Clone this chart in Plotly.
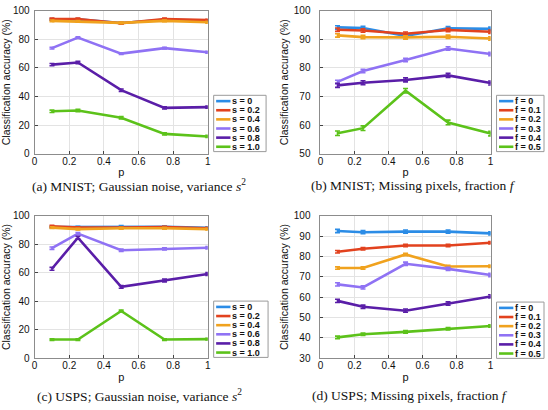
import plotly.graph_objects as go

W, H = 548, 410

# ---------------- data ----------------
p_values = [0.1, 0.25, 0.5, 0.75, 1.0]

s_labels = ["s = 0", "s = 0.2", "s = 0.4", "s = 0.6", "s = 0.8", "s = 1.0"]
f_labels = ["f = 0", "f = 0.1", "f = 0.2", "f = 0.3", "f = 0.4", "f = 0.5"]

# (a) MNIST, Gaussian noise
mnist_gauss = [
    [94.0, 94.0, 91.5, 93.8, 93.2],
    [94.3, 94.3, 91.3, 94.3, 93.5],
    [93.0, 92.6, 91.6, 93.0, 92.0],
    [73.9, 81.3, 70.0, 73.9, 71.0],
    [62.3, 63.8, 44.4, 32.0, 32.5],
    [29.6, 30.2, 25.1, 13.8, 12.0],
]
# (b) MNIST, missing pixels
mnist_missing = [
    [94.2, 94.0, 91.2, 93.9, 93.7],
    [93.4, 93.1, 92.0, 93.3, 92.7],
    [91.4, 90.8, 90.7, 90.9, 90.3],
    [75.1, 78.9, 82.8, 86.8, 84.9],
    [73.9, 74.8, 75.8, 77.4, 74.7],
    [57.1, 58.9, 72.0, 60.9, 57.0],
]
# (c) USPS, Gaussian noise
usps_gauss = [
    [92.0, 92.0, 92.4, 92.2, 91.5],
    [92.6, 91.6, 91.6, 92.0, 91.2],
    [91.6, 90.6, 91.2, 91.2, 90.6],
    [77.2, 87.4, 75.8, 76.7, 77.5],
    [62.8, 84.6, 50.1, 54.6, 59.1],
    [13.2, 13.2, 33.2, 13.2, 13.5],
]
# (d) USPS, missing pixels
usps_missing = [
    [92.5, 91.9, 92.2, 92.2, 91.3],
    [82.3, 83.8, 85.4, 85.4, 86.7],
    [74.3, 74.3, 81.0, 75.1, 75.2],
    [66.3, 64.8, 76.4, 73.9, 70.9],
    [58.2, 55.3, 53.4, 56.9, 60.4],
    [40.3, 41.8, 43.0, 44.5, 45.9],
]
# error-bar half widths (approximate)
err_a = [0.6, 0.6, 0.6, 0.6, 0.8, 0.8]
err_b = [0.6, 0.6, 0.6, 0.6, 0.7, 0.8]
err_c = [0.6, 0.6, 0.6, 0.8, 1.0, 0.6]
err_d = [0.8, 0.6, 0.6, 0.8, 0.8, 0.6]

captions = [
    "(a) MNIST; Gaussian noise, variance <i>s</i><sup>2</sup>",
    "(b) MNIST; Missing pixels, fraction <i>f</i>",
    "(c) USPS; Gaussian noise, variance <i>s</i><sup>2</sup>",
    "(d) USPS; Missing pixels, fraction <i>f</i>",
]
y_ranges = [[0, 100], [50, 100], [0, 100], [30, 100]]
y_dticks = [20, 10, 20, 10]

colors = ["#2b8ce6", "#e2421e", "#f0a21e", "#8f72f4", "#5a1ea8", "#5cc21a"]

# ---------------- layout helpers (pixels -> paper) ----------------
def px(x):
    return x / W

def py(y):
    return 1 - y / H

panels = [
    # plot box: left, right, top, bottom (px); legend box left, top, width
    dict(L=32, R=207, T=5, B=152, lx=213, ly=92, lw=53, cx=137.5, cy=185, stand=2),
    dict(L=321, R=493, T=5, B=152, lx=499, ly=92, lw=48, cx=415, cy=185, stand=7),
    dict(L=32, R=207, T=216, B=363, lx=213, ly=304, lw=55, cx=138, cy=401, stand=2),
    dict(L=321, R=493, T=216, B=363, lx=499, ly=305, lw=48, cx=411.5, cy=401, stand=7),
]
datasets = [mnist_gauss, mnist_missing, usps_gauss, usps_missing]
errs = [err_a, err_b, err_c, err_d]
label_sets = [s_labels, f_labels, s_labels, f_labels]

fig = go.Figure()
shapes = []
annotations = []
layout_axes = {}

for i, (pan, data, err, labels) in enumerate(zip(panels, datasets, errs, label_sets)):
    n = i + 1
    xa = "x" if n == 1 else f"x{n}"
    ya = "y" if n == 1 else f"y{n}"
    for k, (vals, lab) in enumerate(zip(data, labels)):
        fig.add_trace(go.Scatter(
            x=p_values, y=vals, xaxis=xa, yaxis=ya, mode="lines",
            name=lab, showlegend=False,
            line=dict(color=colors[k], width=2.6),
            error_y=dict(type="constant", value=err[k], color=colors[k],
                         thickness=1.6, width=2.5),
        ))
    xkey = "xaxis" if n == 1 else f"xaxis{n}"
    ykey = "yaxis" if n == 1 else f"yaxis{n}"
    axis_common = dict(
        showline=True, linecolor="#8c8c8c", linewidth=1, mirror=True,
        showgrid=True, gridcolor="#e3e3e3", gridwidth=1,
        zeroline=False, ticks="inside", ticklen=3, tickcolor="#444",
        tickfont=dict(family="Liberation Sans, Arial", size=10, color="#111"),
    )
    layout_axes[xkey] = dict(
        axis_common, domain=[px(pan["L"]), px(pan["R"])], anchor=ya,
        range=[0, 1], tickvals=[0, 0.2, 0.4, 0.6, 0.8, 1],
        ticktext=["0", "0.2", "0.4", "0.6", "0.8", "1"],
        ticklabelstandoff=-2,
        title=dict(text="p", standoff=2,
                   font=dict(family="Liberation Sans, Arial", size=11, color="#111")),
    )
    layout_axes[ykey] = dict(
        axis_common, domain=[py(pan["B"]), py(pan["T"])], anchor=xa,
        range=y_ranges[i], dtick=y_dticks[i], ticklabelstandoff=pan["stand"],
        title=dict(text="Classification accuracy (%)", standoff=3,
                   font=dict(family="Liberation Sans, Arial", size=10.5, color="#111")),
    )
    # manual compact legend
    lx, ly, lw = pan["lx"], pan["ly"], pan["lw"]
    lh = 58
    shapes.append(dict(type="rect", xref="paper", yref="paper",
                       x0=px(lx), x1=px(lx + lw), y0=py(ly + lh), y1=py(ly),
                       line=dict(color="#9a9a9a", width=1), fillcolor="white"))
    for k, lab in enumerate(labels):
        yy = ly + 6 + k * 9.4
        shapes.append(dict(type="line", xref="paper", yref="paper",
                           x0=px(lx + 2.5), x1=px(lx + 17), y0=py(yy), y1=py(yy),
                           line=dict(color=colors[k], width=2.6)))
        annotations.append(dict(text=lab, xref="paper", yref="paper",
                                x=px(lx + 17), y=py(yy), xanchor="left", yanchor="middle",
                                showarrow=False,
                                font=dict(family="Liberation Sans, Arial", size=9, color="#111",
                                          weight="bold")))
    annotations.append(dict(text=captions[i], xref="paper", yref="paper",
                            x=px(pan["cx"]), y=py(pan["cy"]), xanchor="center", yanchor="middle",
                            showarrow=False,
                            font=dict(family="Liberation Serif, Times New Roman", size=13.5,
                                      color="#111")))

fig.update_layout(
    width=W, height=H, margin=dict(l=0, r=0, t=0, b=0),
    paper_bgcolor="white", plot_bgcolor="white",
    showlegend=False, shapes=shapes, annotations=annotations,
    **layout_axes,
)

fig.write_html(
    "out.html",
    config={"displayModeBar": False},
    post_script="document.body.style.margin='0';document.body.style.overflow='hidden';",
)
